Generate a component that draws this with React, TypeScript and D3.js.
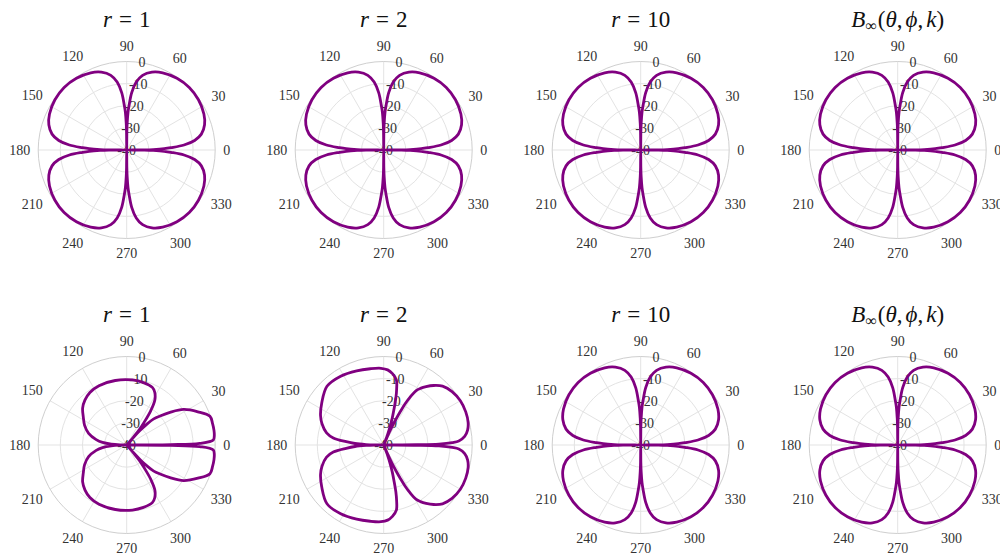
import React from "react";
import * as d3 from "d3";

// angular ticks (deg) and radial ticks (dB)
const ANGLE_TICKS = [0, 30, 60, 90, 120, 150, 180, 210, 240, 270, 300, 330];
const DB_TICKS = [0, -10, -20, -30, -40];
const DB_GRID = [-10, -20, -30];

// four-leaf pattern (top row, and r = 10 / B_inf in bottom row)
const FOUR_LEAF_DEG = [
  0, 0.5, 1, 2, 3, 5, 8, 12, 18, 25, 35, 45, 55, 65, 72, 78, 82, 85, 87, 88, 89, 89.5,
  90, 90.5, 91, 92, 93, 95, 98, 102, 108, 115, 125, 135, 145, 155, 162, 168, 172, 175, 177, 178, 179, 179.5,
  180, 180.5, 181, 182, 183, 185, 188, 192, 198, 205, 215, 225, 235, 245, 252, 258, 262, 265, 267, 268, 269, 269.5,
  270, 270.5, 271, 272, 273, 275, 278, 282, 288, 295, 305, 315, 325, 335, 342, 348, 352, 355, 357, 358, 359, 359.5,
];
const FOUR_LEAF_DB = [
  -40, -32, -28, -23, -20, -14, -9, -5.5, -3, -1.5, -0.4, 0, -0.4, -1.5, -3, -5.5, -9, -14, -20, -23, -28, -32,
  -40, -32, -28, -23, -20, -14, -9, -5.5, -3, -1.5, -0.4, 0, -0.4, -1.5, -3, -5.5, -9, -14, -20, -23, -28, -32,
  -40, -32, -28, -23, -20, -14, -9, -5.5, -3, -1.5, -0.4, 0, -0.4, -1.5, -3, -5.5, -9, -14, -20, -23, -28, -32,
  -40, -32, -28, -23, -20, -14, -9, -5.5, -3, -1.5, -0.4, 0, -0.4, -1.5, -3, -5.5, -9, -14, -20, -23, -28, -32,
];

// bottom row, r = 1
const R1_DEG = [
  0, 0.5, 1.3, 3.3, 6, 9.5, 14, 19, 25, 32, 37, 41, 44, 46, 47.5, 48.5, 49, 49.5, 50.5, 52.5,
  55, 58, 62, 66, 75, 85, 100, 115, 125, 133, 140, 147, 155, 163, 170, 174, 177, 179,
  180, 181, 183, 186, 190, 197, 205, 213, 220, 227, 235, 245, 260, 275, 285, 294, 298, 302, 305,
  307.5, 309.5, 310.5, 311, 311.5, 312.5, 314, 316, 319, 323, 328, 335, 341, 346, 350.5, 354, 356.7, 358.7, 359.5,
];
const R1_DB = [
  -40, -20, -7, -0.8, -0.2, 0, 0, -0.2, -4.5, -9.7, -15.5, -20, -23, -27, -31, -35, -40, -35, -31, -27,
  -21, -16, -13, -11.5, -10.8, -10.5, -10.4, -10.4, -11, -12.3, -14, -16.6, -19, -22, -26, -29, -33, -37,
  -40, -37, -33, -29, -26, -22, -19, -16.6, -14, -12.3, -11, -10.4, -10.4, -10.5, -10.8, -11.5, -13, -16, -21,
  -27, -31, -35, -40, -35, -31, -27, -23, -20, -15.5, -9.7, -4.5, -0.2, 0, 0, -0.2, -0.8, -7, -20,
];

// bottom row, r = 2
const R2_DEG = [
  0, 0.5, 1, 2, 3, 6, 10, 15, 22, 30, 38, 45, 50, 54, 57, 59.3, 61, 62.5, 63.5, 64.5,
  65.5, 66.5, 68, 69.5, 71, 72.5, 74, 75.5, 77, 79, 83, 87, 92, 100, 110, 122, 134, 146, 155, 161,
  168, 172, 175, 177, 178.5, 179.5,
  180, 180.5, 181.5, 183, 185, 188, 192, 199, 205, 214, 226, 238, 250, 260, 268, 273, 277, 281, 283,
  284.5, 286, 287.5, 289, 290.5, 292, 293.5, 294.5, 295.5, 296.5, 297.5, 299, 300.7, 303, 306, 310,
  315, 322, 330, 338, 345, 350, 354, 357, 358, 359, 359.5,
];
const R2_DB = [
  -40, -25, -15, -9, -6, -3.2, -1.5, -0.5, 0, 0, -0.8, -2.4, -4.9, -7.4, -9.5, -11.5, -15, -19, -23, -27,
  -31, -35, -40, -35, -31, -27, -23, -18, -14, -10, -7.5, -6, -5.3, -5, -4.3, -3.3, -3.1, -6.2, -8.5, -10.5,
  -13.6, -17, -23, -27, -32, -36,
  -40, -36, -32, -27, -23, -17, -13.6, -10.5, -8.5, -6.2, -3.1, -3.3, -4.3, -5, -5.3, -6, -7.5, -10, -14,
  -18, -23, -27, -31, -35, -40, -35, -31, -27, -23, -19, -15, -11.5, -9.5, -7.4, -4.9,
  -2.4, -0.8, 0, 0, -0.5, -1.5, -3.2, -6, -9, -15, -25,
];

const TITLES = ["r = 1", "r = 2", "r = 10", "B"];
const ROW_SERIES = [
  [[FOUR_LEAF_DEG, FOUR_LEAF_DB], [FOUR_LEAF_DEG, FOUR_LEAF_DB], [FOUR_LEAF_DEG, FOUR_LEAF_DB], [FOUR_LEAF_DEG, FOUR_LEAF_DB]],
  [[R1_DEG, R1_DB], [R2_DEG, R2_DB], [FOUR_LEAF_DEG, FOUR_LEAF_DB], [FOUR_LEAF_DEG, FOUR_LEAF_DB]],
];

const W = 1000;
const H = 553;
const R = 88.5;
const CX0 = 126.7;
const DX = 257;
const CY = [150, 445];
const FONT = "'Liberation Serif', 'DejaVu Serif', serif";
const PURPLE = "#800080";

const rScale = d3.scaleLinear().domain([-40, 0]).range([0, R]).clamp(true);
// math angle (ccw from east, deg) -> d3 radial angle (cw from north, rad)
const aScale = d3.scaleLinear().domain([0, 360]).range([Math.PI / 2, Math.PI / 2 - 2 * Math.PI]);

const line = d3
  .lineRadial<[number, number]>()
  .angle((d) => aScale(d[0]))
  .radius((d) => rScale(d[1]))
  .curve(d3.curveCatmullRomClosed.alpha(0.5));

function Title({ label }: { label: string }) {
  if (label === "B") {
    return (
      <text x={0} y={-123} textAnchor="middle" fontFamily={FONT} fontSize={23} fill="#111">
        <tspan fontStyle="italic">B</tspan>
        <tspan fontSize={16} dy={4} dx={0}>∞</tspan>
        <tspan dy={-4} dx={1}>(</tspan>
        <tspan fontStyle="italic">θ</tspan>
        <tspan>,</tspan>
        <tspan dx={3} fontStyle="italic">ϕ</tspan>
        <tspan>,</tspan>
        <tspan dx={3} fontStyle="italic">k</tspan>
        <tspan>)</tspan>
      </text>
    );
  }
  const val = label.split("=")[1].trim();
  return (
    <text x={0} y={-123} textAnchor="middle" fontFamily={FONT} fontSize={23} fill="#111">
      <tspan fontStyle="italic">r</tspan>
      <tspan dx={7}>=</tspan>
      <tspan dx={7}>{val}</tspan>
    </text>
  );
}

function Panel({ cx, cy, title, deg, db }: { cx: number; cy: number; title: string; deg: number[]; db: number[] }) {
  const pts = deg.map((a, i) => [a, db[i]] as [number, number]);
  return (
    <g transform={`translate(${cx},${cy})`}>
      {ANGLE_TICKS.map((a) => {
        const t = (a * Math.PI) / 180;
        return (
          <line key={a} x1={0} y1={0} x2={R * Math.cos(t)} y2={-R * Math.sin(t)} stroke="#e3e3e3" strokeWidth={1} />
        );
      })}
      {DB_GRID.map((v) => (
        <circle key={v} r={rScale(v)} fill="none" stroke="#e3e3e3" strokeWidth={1} />
      ))}
      <circle r={R} fill="none" stroke="#cfcfcf" strokeWidth={1} />
      {ANGLE_TICKS.map((a) => {
        const t = (a * Math.PI) / 180;
        const s = String(a);
        const w = s.length * 7;
        const rr = R + 8 + (Math.abs(Math.cos(t)) * w) / 2 + Math.abs(Math.sin(t)) * 7;
        return (
          <text
            key={a}
            x={rr * Math.cos(t)}
            y={-rr * Math.sin(t)}
            textAnchor="middle"
            dominantBaseline="central"
            fontFamily={FONT}
            fontSize={14}
            fill="#333"
          >
            {s}
          </text>
        );
      })}
      {DB_TICKS.map((v) => {
        const t = (80 * Math.PI) / 180;
        const r = rScale(v);
        return (
          <text
            key={v}
            x={r * Math.cos(t)}
            y={-r * Math.sin(t)}
            textAnchor="middle"
            dominantBaseline="central"
            fontFamily={FONT}
            fontSize={14}
            fill="#333"
          >
            {v === 0 ? "0" : `-${Math.abs(v)}`}
          </text>
        );
      })}
      <path d={line(pts) || ""} fill="none" stroke={PURPLE} strokeWidth={2.8} strokeLinejoin="round" />
      <Title label={title} />
    </g>
  );
}

export default function App() {
  return (
    <svg width={W} height={H} style={{ position: "absolute", left: 0, top: 0, background: "#fff" }}>
      {ROW_SERIES.map((row, ri) =>
        row.map(([deg, db], ci) => (
          <Panel key={`${ri}-${ci}`} cx={CX0 + ci * DX} cy={CY[ri]} title={TITLES[ci]} deg={deg} db={db} />
        ))
      )}
    </svg>
  );
}
